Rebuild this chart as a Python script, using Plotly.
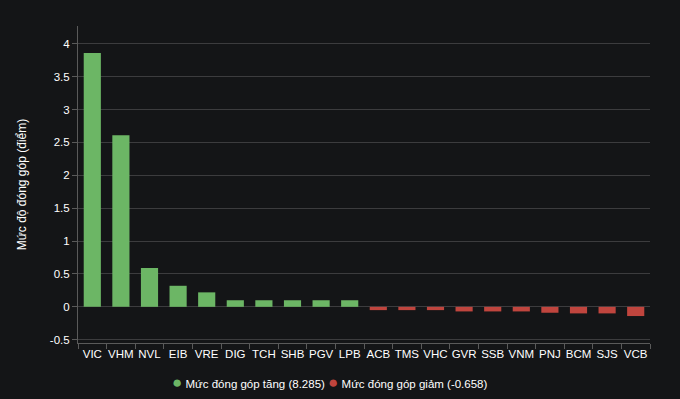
import plotly.graph_objects as go

categories = ["VIC", "VHM", "NVL", "EIB", "VRE", "DIG", "TCH", "SHB", "PGV", "LPB",
              "ACB", "TMS", "VHC", "GVR", "SSB", "VNM", "PNJ", "BCM", "SJS", "VCB"]
up_values = [3.86, 2.61, 0.59, 0.32, 0.22, 0.1, 0.1, 0.1, 0.1, 0.1,
             None, None, None, None, None, None, None, None, None, None]
down_values = [None, None, None, None, None, None, None, None, None, None,
               -0.05, -0.05, -0.05, -0.07, -0.07, -0.07, -0.09, -0.1, -0.1, -0.14]
up_name = "Mức đóng góp tăng (8.285)"
down_name = "Mức đóng góp giảm (-0.658)"
y_title = "Mức độ đóng góp (điểm)"
y_ticks = [-0.5, 0, 0.5, 1, 1.5, 2, 2.5, 3, 3.5, 4]

GREEN = "#6cb665"
RED = "#c0453e"
BG = "#141517"

fig = go.Figure()
fig.add_trace(go.Bar(x=categories, y=up_values, name=up_name,
                     marker=dict(color=GREEN, line=dict(width=0)), showlegend=False))
fig.add_trace(go.Bar(x=categories, y=down_values, name=down_name,
                     marker=dict(color=RED, line=dict(width=0)), showlegend=False))

legend_text = ("<span style='color:%s;font-size:17px'>●</span> %s <span style='color:%s;font-size:17px'>●</span> %s"
               % (GREEN, up_name, RED, down_name))

fig.update_layout(
    width=680, height=399,
    paper_bgcolor=BG, plot_bgcolor=BG,
    margin=dict(l=78, r=30, t=26, b=56),
    barmode="relative", bargap=0.4,
    font=dict(family="Liberation Sans, Arial, sans-serif", color="#ffffff", size=11),
    showlegend=False,
    annotations=[dict(text=legend_text, xref="paper", yref="paper", x=0.44, y=-0.125,
                      xanchor="center", yanchor="middle", showarrow=False,
                      font=dict(size=11.5, color="#ffffff"))],
    xaxis=dict(type="category", showgrid=False, showline=True, linecolor="#5a5a5a",
               linewidth=1, ticks="outside", tickson="boundaries", ticklen=5,
               tickcolor="#5a5a5a", tickangle=0, tickfont=dict(size=11.5, color="#ffffff"),
               zeroline=False, fixedrange=True),
    yaxis=dict(range=[-0.55, 4.27], tickvals=y_ticks,
               ticktext=[("%g" % v) for v in y_ticks],
               showgrid=True, gridcolor="#3c3c3e", gridwidth=1,
               showline=True, linecolor="#5a5a5a", linewidth=1,
               ticks="outside", ticklen=5, tickcolor="#5a5a5a",
               zeroline=True, zerolinecolor="#3c3c3e", zerolinewidth=1,
               tickfont=dict(size=11.5, color="#ffffff"),
               title=dict(text=y_title, font=dict(size=12, color="#ffffff"), standoff=20)),
)

fig.write_html("out.html", config={"displayModeBar": False},
               post_script="document.body.style.margin='0';document.body.style.background='%s';" % BG)
